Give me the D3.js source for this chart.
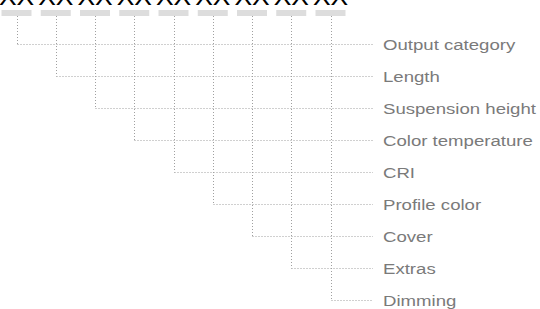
<!DOCTYPE html>
<html><head><meta charset="utf-8">
<script src="https://cdn.jsdelivr.net/npm/d3@7"></script>
<style>html,body{margin:0;padding:0;background:#fff;overflow:hidden}</style>
</head><body>
<svg id="c" width="540" height="309"></svg>
<script>
const columns = ["c1","c2","c3","c4","c5","c6","c7","c8","c9"];
const columnLabels = ["XX","XX","XX","XX","XX","XX","XX","XX","XX"];
const rows = ["Output category","Length","Suspension height","Color temperature","CRI","Profile color","Cover","Extras","Dimming"];

const svg = d3.select("#c");
const x = d3.scalePoint().domain(columns).range([16.5, 330.5]);
const y = d3.scalePoint().domain(rows).range([44, 300]);
const lineEnd = 373, labelX = 383;

// header text (clipped by top edge, as in the reference)
svg.selectAll("text.hdr").data(columns).join("text")
  .attr("class","hdr")
  .attr("transform", d => `translate(${x(d)},5) scale(1.1,1)`)
  .attr("text-anchor","middle")
  .attr("font-family","Liberation Sans, Arial, sans-serif")
  .attr("font-size",24)
  .attr("fill","#000")
  .text((d,i) => columnLabels[i]);

// gray header bars
svg.selectAll("rect.bar").data(columns).join("rect")
  .attr("class","bar")
  .attr("x", d => x(d) - 15).attr("y", 10)
  .attr("width", 30).attr("height", 6)
  .attr("fill","#dddddd");

const dot = {stroke:"#a0a0a0", "stroke-width":1, "stroke-dasharray":"1,2"};
function st(sel){ Object.entries(dot).forEach(([k,v])=>sel.attr(k,v)); return sel; }

// vertical lines
st(svg.selectAll("line.v").data(columns).join("line")
  .attr("class","v")
  .attr("x1", d => Math.round(x(d)) + 0.5).attr("x2", d => Math.round(x(d)) + 0.5)
  .attr("y1", 16).attr("y2", (d,i) => Math.round(y(rows[i])) + 0.5));

// horizontal lines
st(svg.selectAll("line.h").data(rows).join("line")
  .attr("class","h")
  .attr("x1", (d,i) => Math.round(x(columns[i])) + 0.5).attr("x2", lineEnd)
  .attr("y1", d => Math.round(y(d)) + 0.5).attr("y2", d => Math.round(y(d)) + 0.5));

// labels
svg.selectAll("text.lbl").data(rows).join("text")
  .attr("class","lbl")
  .attr("transform", d => `translate(${labelX},${y(d)+5.5}) scale(1.2,1)`)
  .attr("font-family","Liberation Sans, Arial, sans-serif")
  .attr("font-size",15.5)
  .attr("fill","#7a7a7a")
  .text(d => d);
</script>
</body></html>
